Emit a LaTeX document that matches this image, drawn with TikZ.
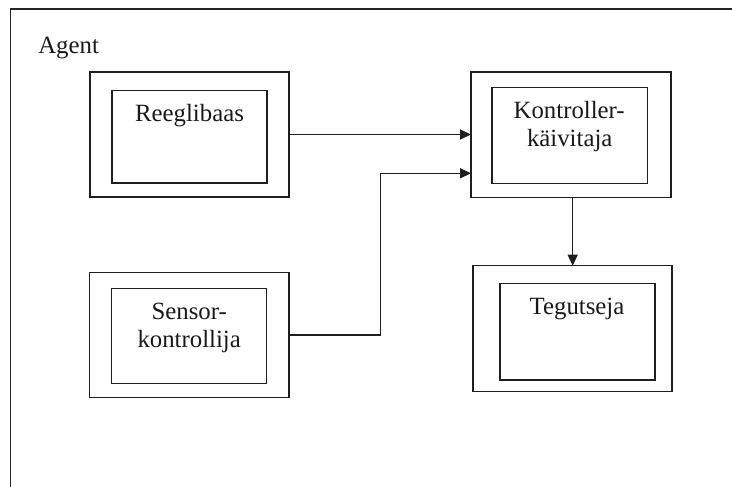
\documentclass[tikz,border=0pt]{standalone}
\usepackage{fontspec}
\setmainfont{Liberation Serif}
\usetikzlibrary{arrows.meta}
\begin{document}
\begin{tikzpicture}[x=1pt,y=-1pt,
  every node/.style={inner sep=0pt,outer sep=0pt},
  box/.style={draw=black!88,line width=1.3pt,rectangle},
  lbl/.style={anchor=base,font=\fontsize{24.8}{28}\selectfont,text=black!90},
  frame/.style={draw=black!85,line width=1.6pt},
  conn/.style={draw=black!88,line width=1.3pt},
  arr/.style={conn,-{Triangle[length=11pt,width=10pt]}}]
\useasboundingbox (0,0) rectangle (732,487);
% outer frame
\coordinate (fb) at (10.3,490);
\coordinate (fc) at (10.3,9.3);
\coordinate (fr) at (735,9.3);
\draw[frame] (fb) -- (fc) -- (fr);
\node[lbl,anchor=base west] (agent) at (38.3,53.3) {Agent};
% Reeglibaas
\node[box,minimum width=199pt,minimum height=125pt] (rb) at (189.5,134.5) {};
\node[box,minimum width=155pt,minimum height=92.3pt] (rbi) at (189.5,136.8) {};
\node[lbl] (rbt) at (189.5,121.7) {Reeglibaas};
% Kontroller
\node[box,minimum width=200pt,minimum height=125.7pt] (kc) at (571,134.9) {};
\node[box,minimum width=155.3pt,minimum height=95.6pt] (kci) at (569.7,135.5) {};
\node[lbl] (kct1) at (569.2,119) {Kontroller-};
\node[lbl] (kct2) at (569.7,146.7) {käivitaja};
% Sensor
\node[box,minimum width=199.3pt,minimum height=125.4pt] (so) at (189.4,335) {};
\node[box,minimum width=155pt,minimum height=95.4pt] (soi) at (189.2,336) {};
\node[lbl] (sot1) at (189.2,319) {Sensor-};
\node[lbl] (sot2) at (189.2,347.3) {kontrollija};
% Tegutseja
\node[box,minimum width=199pt,minimum height=126pt] (tg) at (572.5,328.7) {};
\node[box,minimum width=155pt,minimum height=96.7pt] (tgi) at (577.5,331.7) {};
\node[lbl] (tgt) at (577,314) {Tegutseja};
% connectors
\draw[arr] (rb.east) -- (rb.east -| kc.west);
\coordinate (jn) at (380.7,173.3);
\draw[arr] (so.east) -| (jn) -- (jn -| kc.west);
\coordinate (dn) at (572.7,197.7);
\draw[arr] (dn) -- (dn |- tg.north);
\end{tikzpicture}
\end{document}
